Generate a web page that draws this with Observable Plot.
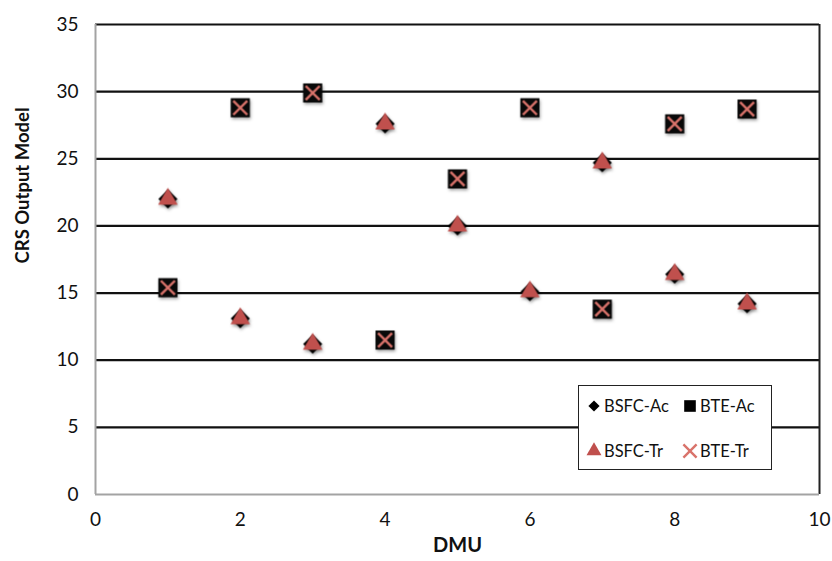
<!DOCTYPE html>
<html><head><meta charset="utf-8">
<script src="https://cdn.jsdelivr.net/npm/d3@7"></script>
<script src="https://cdn.jsdelivr.net/npm/@observablehq/plot@0.6"></script>
<style>
body{margin:0;background:#fff;}
#wrap{position:relative;width:832px;height:561px;font-family:Lato,"Open Sans",sans-serif;}
#legend{position:absolute;left:578px;top:385px;width:194px;height:85px;border:1.6px solid #222;background:#fff;box-sizing:border-box;font-size:16.5px;color:#111;}
#legend .item{position:absolute;display:flex;align-items:center;height:20px;}
#legend svg{overflow:visible;margin-right:3px;}
</style></head><body><div id="wrap"></div>
<script>
const dmu = [1, 2, 3, 4, 5, 6, 7, 8, 9];
const bsfcAc = [22.0, 13.1, 11.2, 27.6, 20.0, 15.1, 24.7, 16.4, 14.2];
const bsfcTr = [22.0, 13.1, 11.2, 27.6, 20.0, 15.1, 24.7, 16.4, 14.2];
const bteAc  = [15.4, 28.8, 29.9, 11.5, 23.5, 28.8, 13.8, 27.6, 28.7];
const bteTr  = [15.4, 28.8, 29.9, 11.5, 23.5, 28.8, 13.8, 27.6, 28.7];
const seriesNames = ["BSFC-Ac", "BTE-Ac", "BSFC-Tr", "BTE-Tr"];
const yTicks = [0, 5, 10, 15, 20, 25, 30, 35];
const xTicks = [0, 2, 4, 6, 8, 10];
const xLabel = "DMU";
const yLabel = "CRS Output Model";

const seriesValues = [bsfcAc, bteAc, bsfcTr, bteTr];
const data = seriesNames.flatMap((s, k) => dmu.map((d, i) => ({dmu: d, value: seriesValues[k][i], series: s})));
const of = s => data.filter(d => d.series === s);

const RED = "#c0504d";
const XRED = "#d9736b";

const chart = Plot.plot({
  width: 832, height: 561,
  marginLeft: 95, marginRight: 13, marginTop: 24, marginBottom: 67,
  style: {fontFamily: "Lato, 'Open Sans', sans-serif", fontSize: "19px", color: "#111", background: "#fff"},
  x: {domain: [0, 10]},
  y: {domain: [0, 35]},
  marks: [
    Plot.ruleY(yTicks.filter(d => d > 0), {stroke: "#111", strokeWidth: 2.2}),
    Plot.ruleX([10], {stroke: "#222", strokeWidth: 2}),
    Plot.ruleX([0], {stroke: "#a3a3a3", strokeWidth: 2}),
    Plot.ruleY([0], {stroke: "#a3a3a3", strokeWidth: 2}),
    Plot.axisY(yTicks, {tickSize: 0, tickPadding: 17, label: null}),
    Plot.axisX(xTicks, {tickSize: 0, tickPadding: 18, label: null}),
    Plot.text([yLabel], {frameAnchor: "left", dx: -72, dy: 4, rotate: -90, fontWeight: "bold", fontSize: 18.5}),
    Plot.text([xLabel], {frameAnchor: "bottom", dy: 57, fontWeight: "bold", fontSize: 20}),
    Plot.dot(of("BSFC-Ac"), {x: "dmu", y: "value", symbol: "diamond2", r: 8.6, fill: "#000", stroke: "none"}),
    Plot.dot(of("BTE-Ac"), {x: "dmu", y: "value", symbol: "square", r: 10.8, fill: "#0a0a0a", stroke: "none"}),
    Plot.dot(of("BSFC-Tr"), {x: "dmu", y: "value", symbol: "triangle2", r: 9.3, fill: RED, stroke: "none"}),
    Plot.dot(of("BTE-Tr"), {x: "dmu", y: "value", symbol: "times", r: 6.4, stroke: XRED, strokeWidth: 2.4})
  ]
});
d3.select(chart).selectAll("g[aria-label=dot]").style("filter", "drop-shadow(1px 2px 1.5px rgba(0,0,0,0.3))");
document.getElementById("wrap").appendChild(chart);

// legend
const legend = document.createElement("div");
legend.id = "legend";
const legendDefs = [
  {name: seriesNames[0], sym: d3.symbolDiamond2, size: 80, fill: "#000", stroke: "none", left: 8, top: 10},
  {name: seriesNames[1], sym: d3.symbolSquare, size: 135, fill: "#000", stroke: "none", left: 104, top: 10},
  {name: seriesNames[2], sym: d3.symbolTriangle2, size: 160, fill: RED, stroke: "none", left: 8, top: 55},
  {name: seriesNames[3], sym: d3.symbolTimes, size: 115, fill: "none", stroke: XRED, left: 104, top: 55}
];
for (const e of legendDefs) {
  const item = document.createElement("div");
  item.className = "item";
  item.style.left = e.left + "px";
  item.style.top = e.top + "px";
  const s = d3.create("svg").attr("width", 14).attr("height", 14).attr("viewBox", "-7 -7 14 14");
  s.append("path").attr("d", d3.symbol(e.sym, e.size)()).attr("fill", e.fill).attr("stroke", e.stroke).attr("stroke-width", 2.4);
  item.appendChild(s.node());
  const t = document.createElement("span");
  t.textContent = e.name;
  item.appendChild(t);
  legend.appendChild(item);
}
document.getElementById("wrap").appendChild(legend);
</script></body></html>
